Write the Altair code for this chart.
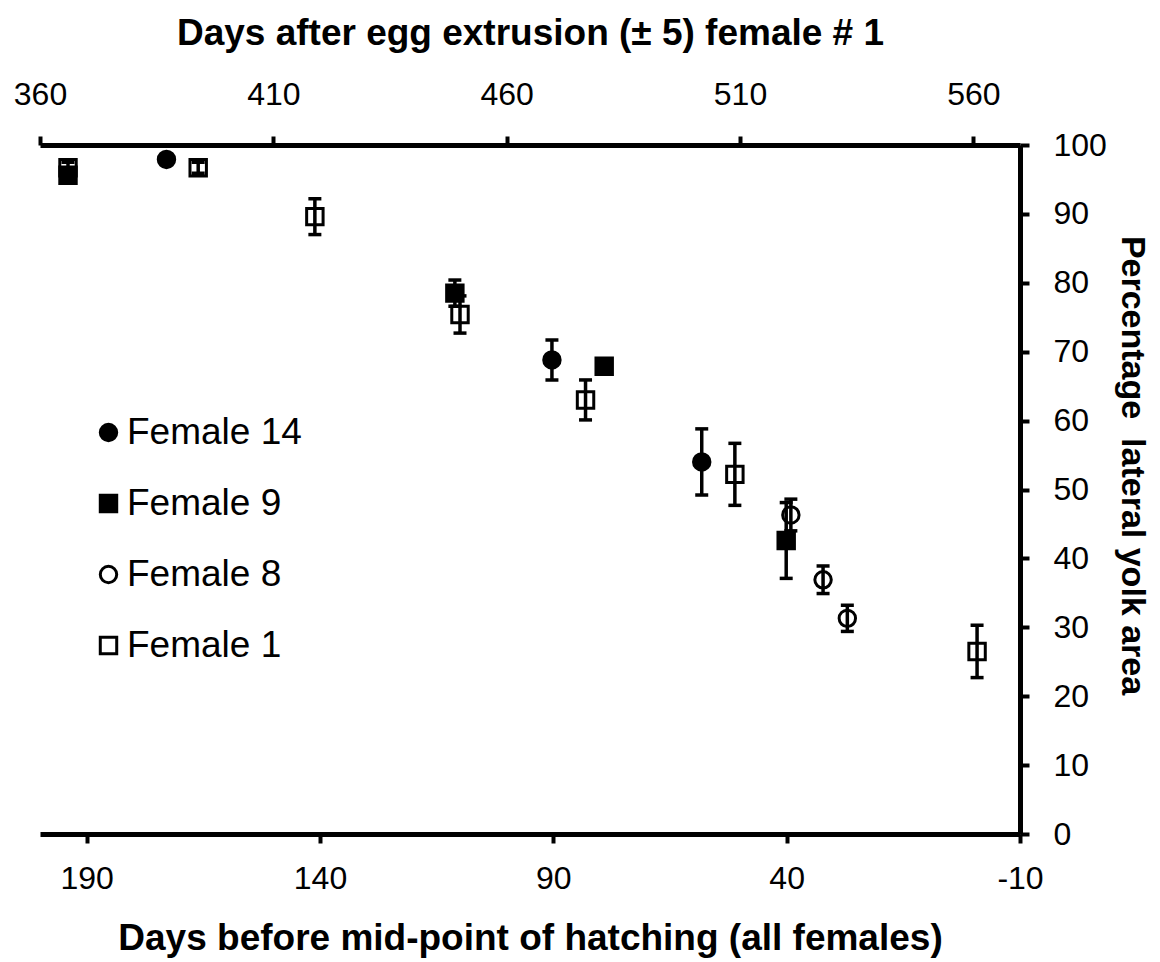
import altair as alt
import pandas as pd

# Measurements per female: days before mid-point of hatching, % lateral yolk area, error (±)
female = ["Female 14"] * 3 + ["Female 9"] * 4 + ["Female 8"] * 3 + ["Female 1"] * 7
days = [172.9, 90.3, 58.2,
        194.0, 111.1, 79.1, 40.1,
        39.1, 32.2, 27.0,
        194.0, 166.1, 141.1, 110.0, 83.1, 51.1, -0.8]
yolk = [97.9, 68.8, 54.0,
        95.6, 78.5, 67.9, 42.6,
        46.3, 36.9, 31.3,
        96.7, 96.7, 89.6, 75.4, 63.0, 52.2, 26.5]
err = [0.0, 2.9, 4.8,
       0.0, 1.9, 0.0, 5.5,
       2.3, 2.0, 1.9,
       0.8, 0.8, 2.6, 2.7, 2.9, 4.5, 3.8]

series = ["Female 14", "Female 9", "Female 8", "Female 1"]
shapes = ["circle", "square", "circle", "square"]
fills = ["black", "black", "white", "white"]
strokes = ["black"] * 4
draw_rank = {"Female 1": 0, "Female 8": 1, "Female 9": 2, "Female 14": 3}

bottom_ticks = [190, 140, 90, 40, -10]
top_ticks = [200, 150, 100, 50, 0]   # shown as 560 - value (days after egg extrusion)
y_ticks = list(range(0, 101, 10))

df = pd.DataFrame({"female": female, "days": days, "yolk": yolk, "err": err})
df["lo"] = df["yolk"] - df["err"]
df["hi"] = df["yolk"] + df["err"]
df["rank"] = df["female"].map(draw_rank)
df = df.sort_values("rank", kind="stable")

FONT = "Liberation Sans"

x_scale = alt.Scale(domain=[-10, 200], reverse=True, nice=False, zero=False)
y_scale = alt.Scale(domain=[0, 100], nice=False, zero=False)

legend = alt.Legend(
    title=None, orient="none", legendX=50, legendY=269, padding=0,
    labelFontSize=37, labelFont=FONT, labelColor="black", labelOffset=0,
    symbolSize=270, symbolStrokeWidth=3, symbolStrokeColor="black",
    symbolOpacity=1, rowPadding=33, labelLimit=400,
)

base = alt.Chart(df)

points = base.mark_point(filled=False, strokeWidth=3, size=270,
                         opacity=1, fillOpacity=1).encode(
    x=alt.X("days:Q", scale=x_scale,
            axis=alt.Axis(orient="bottom", values=bottom_ticks,
                          labelExpr="'' + datum.value",
                          title="Days before mid-point of hatching (all females)",
                          labelPadding=20, titlePadding=26)),
    y=alt.Y("yolk:Q", scale=y_scale,
            axis=alt.Axis(orient="right", values=y_ticks,
                          title="Percentage\u00a0 lateral yolk area",
                          titleFontSize=34, labelPadding=24, titlePadding=8,
                          titleY=320, labelAlign="left")),
    shape=alt.Shape("female:N", scale=alt.Scale(domain=series, range=shapes), legend=legend),
    fill=alt.Fill("female:N", scale=alt.Scale(domain=series, range=fills), legend=legend),
    stroke=alt.Stroke("female:N", scale=alt.Scale(domain=series, range=strokes), legend=legend),
    order=alt.Order("rank:Q"),
)

bars_src = base.transform_filter("datum.err > 0")

rules = bars_src.mark_rule(color="black", strokeWidth=3.5).encode(
    x=alt.X("days:Q", scale=x_scale,
            axis=alt.Axis(orient="top", values=top_ticks,
                          labelExpr="'' + (560 - datum.value)",
                          title="Days after egg extrusion (\u00b1 5) female # 1",
                          labelPadding=25, titlePadding=26)),
    y=alt.Y("lo:Q", scale=y_scale),
    y2="hi:Q",
)

caps = bars_src.transform_fold(["lo", "hi"], as_=["end", "val"]).mark_tick(
    orient="horizontal", color="black", size=13, thickness=3.5, opacity=1
).encode(
    x=alt.X("days:Q", scale=x_scale, axis=None),
    y=alt.Y("val:Q", scale=y_scale),
)

chart = (
    alt.layer(points, rules, caps)
    .resolve_axis(x="independent")
    .properties(
        width=980, height=689,
        autosize=alt.AutoSizeParams(type="none"),
        padding={"left": 40, "top": 145, "right": 140, "bottom": 128},
        background="white",
    )
    .configure_view(stroke=None)
    .configure_axis(
        grid=False,
        domainColor="black", domainWidth=5,
        tickColor="black", tickWidth=4, tickSize=9,
        labelFont=FONT, labelFontSize=32, labelColor="black",
        titleFont=FONT, titleFontSize=37, titleFontWeight="bold", titleColor="black",
        labelFlush=False, labelOverlap=False,
    )
)

chart.save("out.html", embed_options={"renderer": "svg", "actions": False})
